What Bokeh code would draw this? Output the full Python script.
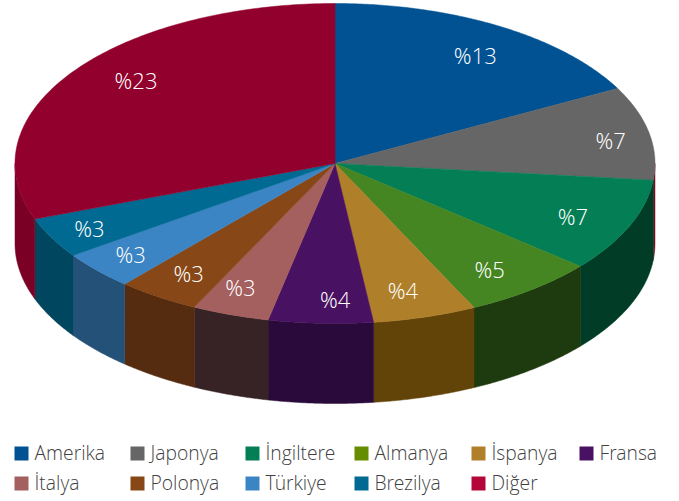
import numpy as np
from bokeh.plotting import figure
from bokeh.models import ColumnDataSource, Range1d
from bokeh.core.properties import value
from bokeh.embed import file_html
from bokeh.resources import INLINE

categories = ["Amerika", "Japonya", "İngiltere", "Almanya", "İspanya", "Fransa",
              "İtalya", "Polonya", "Türkiye", "Brezilya", "Diğer"]
values = [12.92, 7.08, 7.08, 5.06, 3.92, 3.96, 2.92, 3.13, 2.88, 3.08, 22.98]
top_colors = ["#005293", "#666666", "#047f55", "#458622", "#b07f2a", "#491161",
              "#a45f5f", "#874717", "#3c85c4", "#006a92", "#92002d"]
wall_colors = ["#00315a", "#6f1020", "#013c27", "#1e3a0f", "#624408", "#2a0a3a",
               "#372326", "#562c10", "#245177", "#00465f", "#7a0026"]
legend_colors = ["#005293", "#666666", "#047f55", "#668c00", "#b07f2a", "#491161",
                 "#a45f5f", "#874717", "#3c85c4", "#006a92", "#b5063a"]

W, H = 679, 501
CX, CY, RX, RY, DEPTH = 334.5, 163, 320, 160, 80
FONT = "Open Sans Light"


def px(x):
    return (x - CX) / RX


def py(y):
    return (CY - y) / RY


p = figure(width=W, height=H, output_backend="svg", toolbar_location=None,
           x_range=Range1d(px(0), px(W)), y_range=Range1d(py(H), py(0)),
           min_border=0, outline_line_color=None)
p.axis.visible = False
p.grid.visible = False
p.background_fill_color = "white"
p.border_fill_color = "white"

total = sum(values)
edges = 90 - np.concatenate([[0], np.cumsum(values)]) * 360 / total
depth = DEPTH / RY

# side walls
wx, wy, wc = [], [], []
for a0, a1, c in zip(edges[:-1], edges[1:], wall_colors):
    for shift in (0, -360):
        l, h = max(a1 - shift, -180), min(a0 - shift, 0)
        if h > l:
            t = np.radians(np.linspace(h, l, 60))
            xs, ys = np.cos(t), np.sin(t)
            wx.append(np.r_[xs, xs[::-1]])
            wy.append(np.r_[ys, ys[::-1] - depth])
            wc.append(c)
p.patches(wx, wy, fill_color=wc, line_color=wc, line_width=0.5)

# top slices
tx, ty = [], []
for a0, a1 in zip(edges[:-1], edges[1:]):
    t = np.radians(np.linspace(a0, a1, 120))
    tx.append(np.r_[0, np.cos(t)])
    ty.append(np.r_[0, np.sin(t)])
p.patches(tx, ty, fill_color=top_colors, line_color=top_colors, line_width=0.5)

# percentage labels
label_r = [0.80, 0.875, 0.82, 0.83, 0.83, 0.86, 0.835, 0.83, 0.86, 0.87, 0.80]
label_nudge = [-2.5, -2, -1.5, -2, -1.3, 2.8, -1.4, 0.4, 0.4, 0.8, -4.5]
mid = (edges[:-1] + edges[1:]) / 2 + np.array(label_nudge)
lab = ColumnDataSource(dict(
    x=np.array(label_r) * np.cos(np.radians(mid)),
    y=np.array(label_r) * np.sin(np.radians(mid)),
    t=[f"%{round(v)}" for v in values]))
p.text("x", "y", text="t", source=lab, text_color="white", text_align="center",
       text_baseline="middle", text_font=value(FONT), text_font_size="22px",
       x_offset=-1, y_offset=-2)

# legend
col_x = [14, 130, 245, 354, 471, 579]
row_y = [453, 483]
n_cols = 6
lx, ly = [], []
for i, name in enumerate(categories):
    lx.append(col_x[i % n_cols])
    ly.append(row_y[i // n_cols])
SW = 14
p.quad(left=[px(x) for x in lx], right=[px(x + SW) for x in lx],
       top=[py(y - SW / 2) for y in ly], bottom=[py(y + SW / 2) for y in ly],
       fill_color=legend_colors, line_color=None)
p.text(x=[px(x + SW + 6) for x in lx], y=[py(y) for y in ly], text=categories,
       text_color="#404040", text_align="left", text_baseline="middle",
       text_font=value(FONT), text_font_size="19.3px", y_offset=-1)

open("out.html", "w").write(file_html(p, INLINE))
